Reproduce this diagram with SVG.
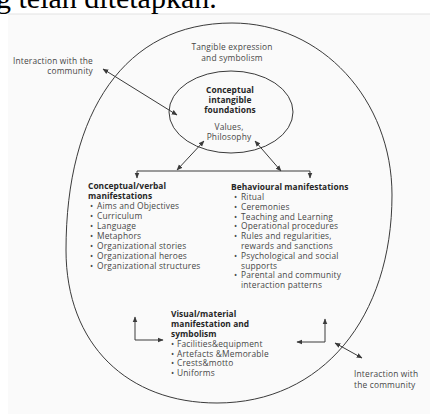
<svg xmlns="http://www.w3.org/2000/svg" width="430" height="418" viewBox="0 0 430 418">
<style>
.t{font-family:"Open Sans","Noto Sans",sans-serif;font-size:8.4px;letter-spacing:0.18px;fill:#474747}
.b{font-family:"Open Sans","Noto Sans",sans-serif;font-size:8.4px;font-weight:bold;letter-spacing:0.05px;fill:#262626}
.c{text-anchor:middle}
.e{text-anchor:end}
.ln{fill:none;stroke:#3a3a3a;stroke-width:1}
</style>
<defs>
<marker id="ah" viewBox="0 0 10 10" refX="9" refY="5" markerWidth="6" markerHeight="6" markerUnits="userSpaceOnUse" orient="auto-start-reverse"><path d="M0,1 L10,5 L0,9 z" fill="#3a3a3a"/></marker>
</defs>
<rect x="0" y="0" width="430" height="418" fill="#ffffff"/>
<rect x="8" y="14" width="422" height="400" fill="#fafafa"/>
<line x1="8" y1="14" x2="430" y2="14" stroke="#e2e2e2" stroke-width="1"/>
<text x="-4" y="8" font-family="Liberation Serif,serif" font-size="30" fill="#000">g telah ditetapkan.</text>

<g id="outer">
<path class="ln" d="M232,23 C322,23 392,100 392,195 C392,318 322,403 217,403 C128,403 66,345 66,250 C66,112 125,23 232,23 Z"/>
<text class="t c" x="232" y="50">Tangible expression</text>
<text class="t c" x="232" y="61">and symbolism</text>
</g>

<g id="inner">
<ellipse class="ln" cx="231" cy="112" rx="62" ry="41"/>
<text class="b c" x="230" y="93">Conceptual</text>
<text class="b c" x="230" y="103">intangible</text>
<text class="b c" x="230" y="113">foundations</text>
<text class="t c" x="229" y="130">Values,</text>
<text class="t c" x="229" y="140">Philosophy</text>
</g>

<g id="interaction-top">
<text class="t e" x="93" y="64">Interaction with the</text>
<text class="t e" x="93" y="74">community</text>
</g>

<g id="conceptual-verbal">
<text class="b" x="88" y="189">Conceptual/verbal</text>
<text class="b" x="88" y="199">manifestations</text>
<text class="t"><tspan x="90" y="209">•</tspan><tspan x="97">Aims and Objectives</tspan></text>
<text class="t"><tspan x="90" y="219">•</tspan><tspan x="97">Curriculum</tspan></text>
<text class="t"><tspan x="90" y="229">•</tspan><tspan x="97">Language</tspan></text>
<text class="t"><tspan x="90" y="239">•</tspan><tspan x="97">Metaphors</tspan></text>
<text class="t"><tspan x="90" y="249">•</tspan><tspan x="97">Organizational stories</tspan></text>
<text class="t"><tspan x="90" y="259">•</tspan><tspan x="97">Organizational heroes</tspan></text>
<text class="t"><tspan x="90" y="269">•</tspan><tspan x="97">Organizational structures</tspan></text>
</g>

<g id="behavioural">
<text class="b" x="231" y="190">Behavioural manifestations</text>
<text class="t"><tspan x="234" y="200">•</tspan><tspan x="241">Ritual</tspan></text>
<text class="t"><tspan x="234" y="209.8">•</tspan><tspan x="241">Ceremonies</tspan></text>
<text class="t"><tspan x="234" y="219.6">•</tspan><tspan x="241">Teaching and Learning</tspan></text>
<text class="t"><tspan x="234" y="229.4">•</tspan><tspan x="241">Operational procedures</tspan></text>
<text class="t"><tspan x="234" y="239.2">•</tspan><tspan x="241">Rules and regularities,</tspan></text>
<text class="t" x="241" y="249">rewards and sanctions</text>
<text class="t"><tspan x="234" y="258.8">•</tspan><tspan x="241">Psychological and social</tspan></text>
<text class="t" x="241" y="268.6">supports</text>
<text class="t"><tspan x="234" y="278.4">•</tspan><tspan x="241">Parental and community</tspan></text>
<text class="t" x="241" y="288.2">interaction patterns</text>
</g>

<g id="visual-material">
<text class="b" x="171" y="317">Visual/material</text>
<text class="b" x="171" y="327">manifestation and</text>
<text class="b" x="171" y="336.5">symbolism</text>
<text class="t"><tspan x="171" y="347">•</tspan><tspan x="177">Facilities&amp;equipment</tspan></text>
<text class="t"><tspan x="171" y="356.5">•</tspan><tspan x="177">Artefacts &amp;Memorable</tspan></text>
<text class="t"><tspan x="171" y="366">•</tspan><tspan x="177">Crests&amp;motto</tspan></text>
<text class="t"><tspan x="171" y="375.5">•</tspan><tspan x="177">Uniforms</tspan></text>
</g>

<g id="interaction-bottom">
<text class="t" x="354" y="377">Interaction with</text>
<text class="t" x="354" y="388">the community</text>
</g>

<g id="connectors">
<line class="ln" x1="103" y1="69" x2="177" y2="115" marker-start="url(#ah)" marker-end="url(#ah)"/>
<line class="ln" x1="204" y1="141" x2="177" y2="170" marker-start="url(#ah)" marker-end="url(#ah)"/>
<line class="ln" x1="255" y1="141" x2="281" y2="171" marker-start="url(#ah)" marker-end="url(#ah)"/>
<line class="ln" x1="137" y1="171" x2="310" y2="171"/>
<line class="ln" x1="137" y1="171" x2="137" y2="178" marker-end="url(#ah)"/>
<line class="ln" x1="310" y1="171" x2="310" y2="178" marker-end="url(#ah)"/>
<path class="ln" d="M135,317 L135,340 L163,340" marker-start="url(#ah)" marker-end="url(#ah)"/>
<path class="ln" d="M325,319 L325,342 L297,342" marker-start="url(#ah)" marker-end="url(#ah)"/>
<line class="ln" x1="335" y1="343" x2="362" y2="358" marker-start="url(#ah)" marker-end="url(#ah)"/>
</g>
</svg>
